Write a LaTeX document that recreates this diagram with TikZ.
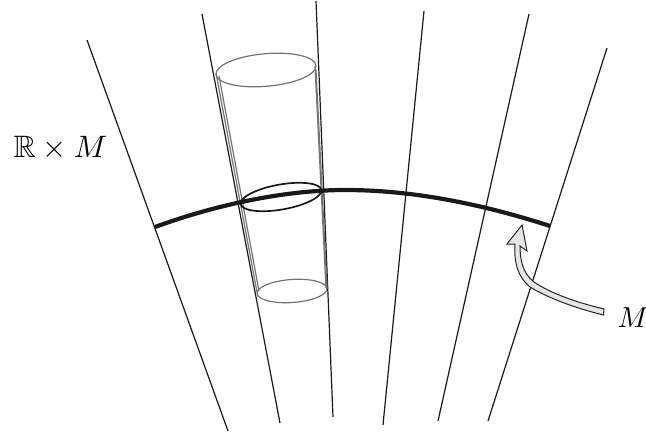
\documentclass[tikz,border=0pt]{standalone}
\usepackage{amsmath,amssymb}
\tikzset{
  ruling/.style={line width=1.2pt,black!90},
  core/.style={line width=4.2pt,black!90},
  tube/.style={line width=1.2pt,black!55},
  waist/.style={line width=1.7pt,black!90},
  lbl/.style={scale=3.1,inner sep=0pt}
}
\begin{document}
\begin{tikzpicture}[x=1pt,y=-1pt]
\useasboundingbox (0,0) rectangle (646,434);
% rulings
\coordinate (a1) at (87,40);   \coordinate (b1) at (228,431);
\coordinate (a2) at (202,14);  \coordinate (b2) at (280,423);
\coordinate (a3) at (316,1);   \coordinate (b3) at (333,417);
\coordinate (a4) at (424,11);  \coordinate (b4) at (383,425);
\coordinate (a5) at (529,14);  \coordinate (b5) at (438,421);
\coordinate (a6) at (607,48);  \coordinate (b6) at (488,421);
\foreach \i in {1,...,6} \draw[ruling] (a\i) -- (b\i);
% tube
\draw[tube] (216,73) -- (257,292);
\draw[tube] (219,76) -- (259,291);
\draw[tube] (315,66) -- (326,288);
\draw[tube] (316,70) -- (327,288);
\draw[tube,rotate around={5:(266,70)}] (266,70) ellipse [x radius=50.2,y radius=16.3];
\draw[tube,rotate around={4:(292,291)}] (292,291) ellipse [x radius=35,y radius=11.5];
\draw[waist,rotate around={10:(281,197)}] (281,197) ellipse [x radius=41,y radius=12.5];
% thick curve
\coordinate (c1) at (155,227); \coordinate (c2) at (550,226);
\draw[core] (c1) .. controls (215,205) and (285,190) .. (345,190)
   .. controls (415,190) and (485,205) .. (c2);
% pointer arrow
\coordinate (tailA) at (604,309); \coordinate (tailB) at (603.5,315);
\coordinate (tip) at (522,225);
\draw[line width=1pt,black!85,fill=black!10,line join=miter]
  (tailA) .. controls (575,302) and (550,293) .. (534,282)
  .. controls (522,273) and (520,258) .. (520,246)
  -- (527,251) -- (tip) -- (507,244) -- (515,244)
  .. controls (514,262) and (517,276) .. (530,287)
  .. controls (548,298) and (575,308) .. (tailB) -- cycle;
% labels
\node[lbl,anchor=base west] (rm) at (13,157) {$\mathbb{R}\times M$};
\node[lbl,scale=0.93,anchor=base west] (m) at (617,327) {$M$};
\end{tikzpicture}
\end{document}
